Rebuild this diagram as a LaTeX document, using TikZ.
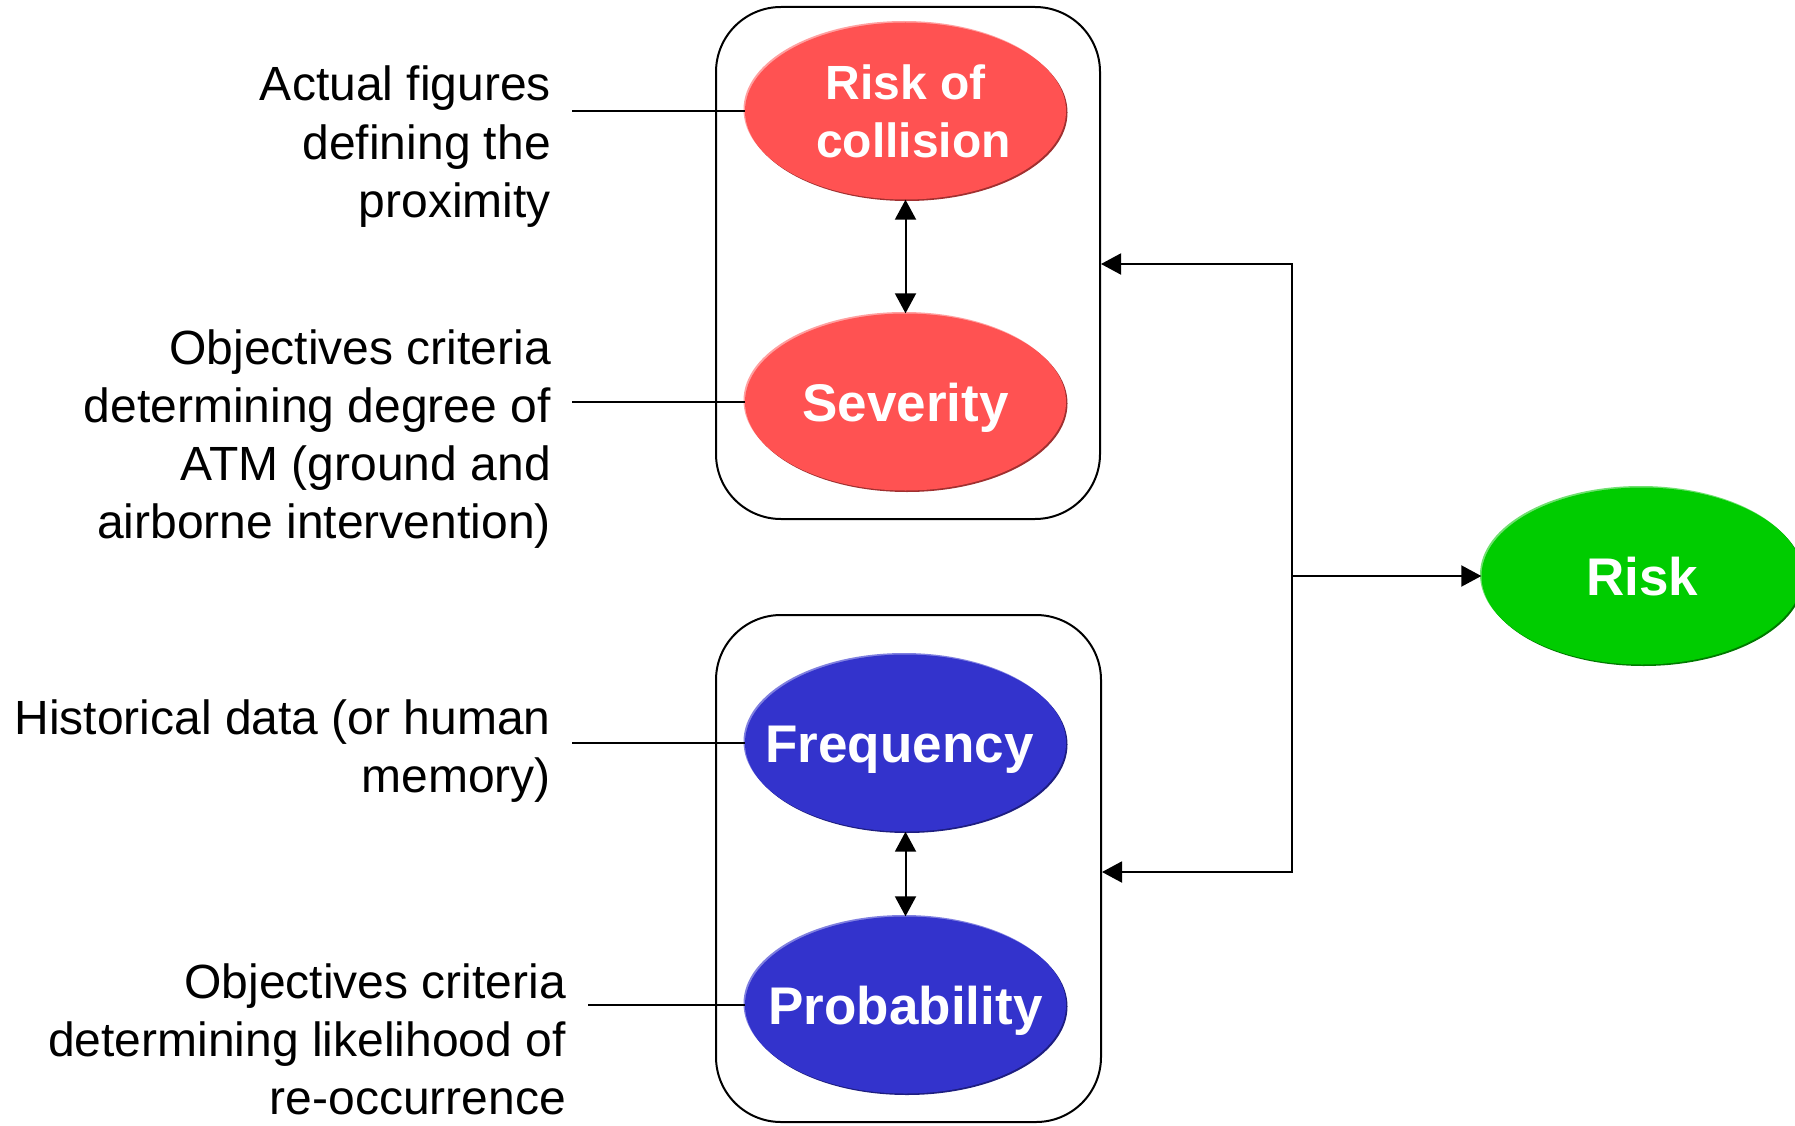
\documentclass[tikz,border=0pt]{standalone}
\usepackage{fontspec}
\setmainfont{Liberation Sans}
\usetikzlibrary{arrows.meta,shapes.geometric,shadows}

\definecolor{redfill}{HTML}{FF5252}
\definecolor{redrim}{HTML}{A03030}
\definecolor{redlight}{HTML}{FFA0A0}
\definecolor{bluefill}{HTML}{3333CC}
\definecolor{bluerim}{HTML}{1E1E80}
\definecolor{bluelight}{HTML}{8080E0}
\definecolor{greenfill}{HTML}{00CC00}
\definecolor{greenrim}{HTML}{007A00}
\definecolor{greenlight}{HTML}{70E070}

\tikzset{
  bubble/.style={ellipse, minimum width=321pt, minimum height=177pt,
    inner xsep=-30pt, inner ysep=0pt, text=white, align=center,
    font=\bfseries\fontsize{53}{58}\selectfont},
  oneword/.style={text height=38pt, text depth=0pt},
  rimmed/.style n args={3}{fill=#1,
    general shadow={shadow xshift=-1.5pt, shadow yshift=1.5pt, fill=#3},
    general shadow={shadow xshift=1.5pt, shadow yshift=-1.5pt, fill=#2}},
  redbub/.style={bubble, rimmed={redfill}{redrim}{redlight}},
  bluebub/.style={bubble, oneword, rimmed={bluefill}{bluerim}{bluelight}},
  greenbub/.style={bubble, oneword, rimmed={greenfill}{greenrim}{greenlight}},
  frame/.style={draw, line width=2pt, rounded corners=65pt, inner sep=0pt},
  note/.style={anchor=base east, align=right, inner sep=0pt,
    font=\fontsize{48}{58}\selectfont},
  link/.style={line width=2pt},
  arr/.style={line width=2pt, -{Triangle[length=20pt,width=21pt]}},
  dbl/.style={line width=2pt,
    {Triangle[length=20pt,width=21pt]}-{Triangle[length=20pt,width=21pt]}},
}

\begin{document}
\begin{tikzpicture}[x=1pt, y=-1pt]
  \useasboundingbox (0,0) rectangle (1795,1126);

  % grouping frames
  \node[frame, minimum width=384pt, minimum height=512pt] (upper) at (908,263) {};
  \node[frame, minimum width=385pt, minimum height=507pt] (lower) at (908.5,868.5) {};

  % factor ellipses
  \node[redbub, font=\bfseries\fontsize{48}{58}\selectfont] (rc) at (905.5,111) {Risk of\\\hspace*{16pt}collision};
  \node[redbub, oneword] (sev) at (905.5,402) {Severity};
  \node[bluebub] (freq) at (905.5,743) {Frequency\hspace*{12pt}};
  \node[bluebub] (prob) at (905.5,1005) {Probability};
  \node[greenbub] (risk) at (1642,576) {Risk};

  % explanations (anchored on the baseline of the last line)
  \node[note] (n1) at (551,217) {Actual figures\\defining the\\proximity};
  \node[note] (n2) at (551,538) {Objectives criteria\\determining degree of\\ATM (ground and\\airborne intervention)};
  \node[note] (n3) at (551,792) {Historical data (or human\\memory)};
  \node[note] (n4) at (566,1114) {Objectives criteria\\determining likelihood of\\re-occurrence};

  % leader lines
  \coordinate (l1) at (572,111);
  \coordinate (l2) at (572,402);
  \coordinate (l3) at (572,743);
  \coordinate (l4) at (588,1005);
  \draw[link] (l1) -- (rc.west);
  \draw[link] (l2) -- (sev.west);
  \draw[link] (l3) -- (freq.west);
  \draw[link] (l4) -- (prob.west);

  % links inside the frames
  \draw[dbl] (rc.south) -- (sev.north);
  \draw[dbl] (freq.south) -- (prob.north);

  % feedback from risk to both frames
  \coordinate (j) at (1292,576);
  \coordinate (tu) at (1292,264);
  \coordinate (tl) at (1292,872);
  \draw[arr] (j) -- (tu) -- (upper.east |- tu);
  \draw[arr] (j) -- (tl) -- (lower.east |- tl);
  \draw[arr] (j) -- (risk.west);
\end{tikzpicture}
\end{document}
